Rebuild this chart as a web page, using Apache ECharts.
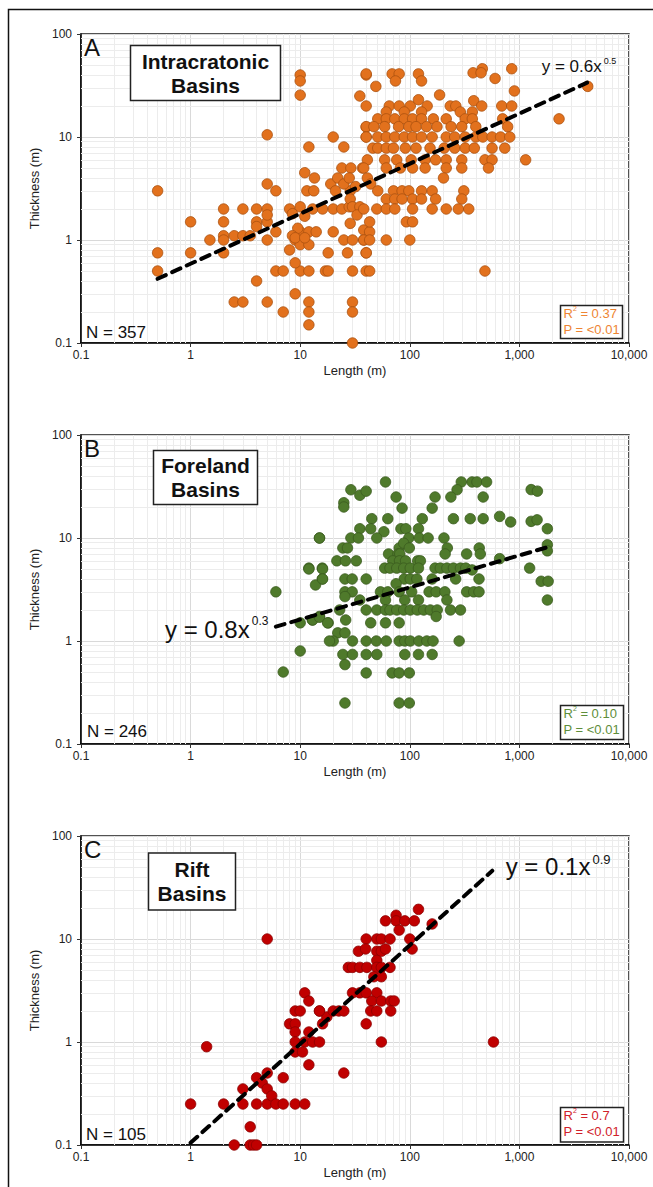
<!DOCTYPE html>
<html>
<head>
<meta charset="utf-8">
<script src="https://cdn.jsdelivr.net/npm/echarts@6/dist/echarts.min.js"></script>
<style>
html,body{margin:0;padding:0;background:#fff;}
#chart{width:653px;height:1187px;}
</style>
</head>
<body>
<div id="chart"></div>
<script>
// ---------- DATA (Length m, Thickness m) ----------
const intracratonic = [
 [10,40],[10,35],[10,25.5],[40,40],[35,25],[40,20],[5,10.5],[20,10],[12,8],[25,8],[40,12.5],[40,10],
 [24,5],[29,5],[37,5],[11,4.5],[13.5,4],[19,3.5],[22,4],[21,3],
 [0.5,3],[5,3.5],[6,3],[11.5,3],[13.3,3],
 [2,2],[3,2],[4,2],[5,2],[8,2],[10,2.1],[13,2],[16,2],[20,2],[24,2],[28,2.1],
 [1,1.5],[2,1.5],[4,1.5],[5,1.5],[5,1.75],[4,1.35],
 [1.5,1],[2,1.1],[2,1],[2.5,1.1],[3,1.1],[3.5,1.1],[5,1],[6,1.2],
 [10,1.2],[12,1.2],[14,1.2],[20,1.2],[9,1],[10,0.9],[12,0.9],[8,0.8],[25,1],[30,1],[38,1],
 [0.5,0.75],[1,0.75],[2,0.75],[18,0.75],[27,0.75],[40,0.75],
 [0.5,0.5],[6,0.5],[7,0.5],[10,0.5],[12,0.5],[17,0.5],[18,0.5],[30,0.5],[40,0.5],
 [9,0.6],[4,0.4],[2.5,0.25],[3,0.25],[5,0.25],[9,0.3],[12,0.25],[12,0.2],[12,0.15],[7,0.2],[30,0.25],[30,0.2],[30,0.1],
 [8.5,1.8],[11,1.7],[9.5,1.3],[8.5,1.1],[9,1.05],[11,1.05],
 [28.6,3],[28.6,2.5],[30,2.1],[35,2.1],[33,1.75],[28.6,1.45],[38,1.25],[43,1.2],[38,1],[25,3.5],[32,3.3],[28,4],
 [40,41],[69,41],[80,41],[74,35],[120,41],[128,35],[378,42],[459,46],[447,42],[851,46],[600,37],[900,28],[49,31],[187,25.6],
 [65,20],[80,20],[101,20],[120,23],[144,20],[234,20],[263,20],[383,22.5],[453,20],[690,20],[851,20],
 [2300,15],[4200,31],
 [61,17.5],[89,17.5],[128,17.5],[289,17.5],[372,17.5],
 [51,15],[61,15],[73,15],[89,15],[106,15],[128,15],[164,15],[215,15],[320,15],[372,15],[703,15],
 [40,12.6],[47,12.6],[59,12.6],[79,12.6],[98,12.6],[114,12.6],[142,12.6],[177,12.6],[238,12.6],[298,12.6],[400,12.6],[781,12.6],
 [40,10],[51,10],[61,10],[73,10],[89,10],[106,10],[128,10],[160,10],[215,10],[257,10],[320,10],[400,10],[464,10],[563,10],[673,10],[817,10],
 [46,7.8],[51,7.8],[61,7.8],[71,7.8],[91,7.8],[114,7.8],[153,7.8],[206,7.8],[257,7.8],[320,7.8],[388,7.8],[563,7.8],[735,7.8],
 [41,6],[59,6],[76,6],[103,6],[138,6],[172,6],[215,6],[298,6],[485,6],[563,6],[1140,6],
 [38,5],[61,5],[82,5],[106,5],[138,5],[215,5],[298,5],[522,5],
 [41,4],[203,4],[44,3.5],
 [51,3],[71,3],[85,3],[98,3],[128,3],[160,3],[311,3],
 [61,2.5],[73,2.5],[85,2.5],[106,2.5],[128,2.5],[172,2.5],[298,2.5],
 [38,2],[50,2],[61,2],[73,2],[106,2],[160,2],[215,2],[277,2],[345,2],
 [43,1.5],[93,1.5],[106,1.5],
 [43,1],[61,1],[100,1],[40,0.75],[43,0.5],[485,0.5]
];
const foreland = [
 [60,35],[295,35],[370,35],[410,35],[502,35],[29,29.4],[35,26],[40,28.5],[270,29.4],[1280,29.5],[1460,28.5],
 [25,22],[25,20],[75,25],[170,25],[237,25],[467,25],[85,19.5],[160,19.5],
 [45,15.4],[63,15.4],[130,15.4],[250,15.4],[356,15.4],[467,15.4],[660,16.2],[832,14.3],[1280,14.5],[1450,15],
 [35,12.3],[44,12.3],[58,11.5],[83,12.3],[92,12.3],[120,12.3],[1800,12.3],
 [15,10],[29,10],[34,10],[50,10],[98,10],[122,10],[147,10],[205,10],
 [24.5,8],[27,8],[80,8],[88,8.9],[99,8],[220,8],[430,8],[1800,8.6],[1800,7.5],
 [64,7],[78,7],[81,7],[210,7],[330,7],[440,7],[660,6.3],
 [21.6,6],[25.9,6],[32.5,6],[70,6],[80.6,6],[91.5,6],[118,6],[125,6],
 [12,5.1],[15.9,5.1],[59,5.1],[66,5.1],[76,5.1],[88,5.1],[101,5.1],[120,5.1],[170,5.1],[190,5.1],[218,5.1],[250,5.1],[290,5.1],[324,5.1],[1240,5.1],[370,4.9],
 [15.9,4],[25.6,4],[29.8,4],[40,4],[89,4],[101,4],[116,4],[160,4],[262,4],[428,4],[75,3.6],
 [13.8,3.5],[1580,3.8],[1830,3.8],
 [25.6,3],[29.8,3],[54,3],[63,3],[80,3],[104,3],[150,3],[174,3],[209,3],[330,3],[383,3],[428,3],
 [25.6,2.7],
 [35,2.5],[60,2.5],[90,2.5],[120,2.5],[218,2.5],[1800,2.5],
 [22.9,2],[40,2],[50,2],[60,2],[66,2],[76,2],[88,2],[101,2],[117,2],[134,2],[154,2],[178,2],[235,2],[290,2],
 [12.9,1.6],[15,1.73],[18,1.5],[26,1.6],[44,1.5],[60,1.5],[80,1.5],[174,1.73],
 [22,1.2],[25.6,1.2],
 [20,1],[30,1],[40,1],[49.5,1],[61,1],[80,1],[90,1],[101,1],[121,1],[143,1],[163,1],[282,1],
 [24.5,0.74],[30,0.74],[40,0.74],[50,0.74],[90,0.74],[120,0.74],[160,0.74],
 [25.6,0.59],
 [40,0.49],[69,0.49],[80,0.49],[99,0.49],
 [25.6,0.25],[80,0.25],[99,0.25],
 [6,3],[7,0.5],[10,1.5],[10,0.8],[13,1.6],[15,10],[12,5],[16,5],[16,4],[15,1.7],[17.8,1.5],[18.5,1]
];
const rift = [
 [1,0.25],[1.4,0.9],[2,0.25],[2.5,0.1],[3,0.35],[3,0.25],[3.5,0.15],[3.5,0.1],[3.75,0.1],[4,0.1],
 [4,0.45],[4,0.25],[4.5,0.4],[5,0.5],[5,0.35],[5,0.25],[5.5,0.3],[6,0.25],[7,0.45],[7,0.25],[5,10],
 [8,1.5],[9,2],[10,2],[9,1.5],[9,1.25],[9,1],[9,0.8],[9,0.25],
 [11,3],[12,2.5],[11,1],[13,1],[15,1],[10.5,0.8],[12,1.25],[12,0.6],[11,0.25],[15,2],[16,1.5],[17.5,1.75],
 [120,19.4],[75,17],[75,15],[60,15],[90,15],[110,15],[80,12.2],[160,14],
 [40,10],[50,10],[55,10],[66,10],[100,10],
 [34,7.6],[39.5,8],[50,7.6],[55,7.6],[60,8],[105,8],[50,6.2],
 [27.5,5.3],[30,5.3],[35,5.3],[40.6,5.3],[50,5.3],[55,5.3],[66,5.3],
 [47,4.3],[55,4.3],
 [30,3],[35,3],[40,3],[50,3],
 [45,2.5],[55,2.5],[67,2.5],[72,2.5],
 [15,2],[20,2],[22.5,2],[25,2],[44,2],[50,2],[67,2],
 [40,1.5],[55,1],[580,1],[25,0.5]
];
// trend line end points
const trendA = [[0.5,0.42],[4150,33.7]];
const trendB = [[6,1.38],[1770,8.1]];
const trendC = [[1,0.105],[566,46]];
// axis tick values
const xTicks = [0.1,1,10,100,1000,10000];
const yTicks = [0.1,1,10,100];

// ---------- LAYOUT ----------
const FONT = "'Liberation Sans', Arial, sans-serif";
const LEFT = 81, W = 548, H = 309;
const panels = [
 {top:34, data:intracratonic, trend:trendA, fill:'#E2711D', edge:'#A9500F', txt:'#EE8533',
  letter:'A', title:'Intracratonic\nBasins', box:[130,45,150,55], n:'N = 357', nY:323.5, nX:86,
  r2:'0.37', rbox:[560.5,305.5,62,33], eq:['0.6','0.5'], eqPos:[541.7,56], eqSize:17, eqSup:9},
 {top:435, data:foreland, trend:trendB, fill:'#4F7A2B', edge:'#3A5A1E', txt:'#5E8E3A',
  letter:'B', title:'Foreland\nBasins', box:[153,450,104,54], n:'N = 246', nY:722.8, nX:87,
  r2:'0.10', rbox:[560.5,705.5,63,34], eq:['0.8','0.3'], eqPos:[165,615], eqSize:24, eqSup:12},
 {top:836, data:rift, trend:trendC, fill:'#C00000', edge:'#8A0000', txt:'#D0202A',
  letter:'C', title:'Rift\nBasins', box:[148,852.5,87,57], n:'N = 105', nY:1126, nX:86,
  r2:'0.7', rbox:[560.5,1107.5,63,34.5], eq:['0.1','0.9'], eqPos:[505.7,852.8], eqSize:24, eqSup:13}
];

const minorX = [], minorY = [];
for (let e = -1; e < 4; e++) for (let m = 2; m <= 9; m++) minorX.push(+(m*Math.pow(10,e)).toPrecision(3));
for (let e = -1; e < 2; e++) for (let m = 2; m <= 9; m++) minorY.push(+(m*Math.pow(10,e)).toPrecision(3));

const fmt = v => Number(Number(v).toPrecision(4)).toLocaleString('en-US');

const grids = [], xAxes = [], yAxes = [], series = [], graphics = [];
panels.forEach((p, i) => {
  grids.push({left:LEFT, top:p.top, width:W, height:H, show:true, borderColor:'#1a1a1a', borderWidth:1.5, backgroundColor:'#fff'});
  xAxes.push({type:'log', logBase:10, gridIndex:i, min:0.1, max:10000,
    axisLine:{show:true, onZero:false, lineStyle:{color:'#000', width:1.5}},
    axisTick:{show:true, inside:false, length:4, lineStyle:{color:'#333', width:1}},
    axisLabel:{fontSize:12, color:'#222', margin:6, fontFamily:FONT, formatter:fmt},
    splitLine:{show:true, lineStyle:{color:'#d9d9d9', width:1}},
    name:'Length (m)', nameLocation:'middle', nameGap:21,
    nameTextStyle:{fontSize:13, color:'#222', fontFamily:FONT}});
  yAxes.push({type:'log', logBase:10, gridIndex:i, min:0.1, max:100,
    axisLine:{show:true, onZero:false, lineStyle:{color:'#000', width:1.5}},
    axisTick:{show:true, inside:false, length:4, lineStyle:{color:'#333', width:1}},
    axisLabel:{fontSize:12, color:'#222', margin:9, fontFamily:FONT, formatter:fmt},
    splitLine:{show:true, lineStyle:{color:'#d9d9d9', width:1}},
    name:'Thickness (m)', nameLocation:'middle', nameGap:27,
    nameTextStyle:{fontSize:13, color:'#222', fontFamily:FONT}});
  // minor grid lines
  series.push({type:'line', xAxisIndex:i, yAxisIndex:i, data:[], z:1, silent:true,
    markLine:{silent:true, symbol:['none','none'], label:{show:false}, animation:false, z:1,
      lineStyle:{color:'#ececec', type:'solid', width:1},
      emphasis:{disabled:true},
      data:[...minorX.map(v => ({xAxis:v})), ...minorY.map(v => ({yAxis:v}))]}});
  series.push({type:'scatter', xAxisIndex:i, yAxisIndex:i, data:p.data, z:10,
    symbol:'circle', symbolSize:10.5,
    itemStyle:{color:p.fill, borderColor:p.edge, borderWidth:0.8, opacity:1}});
  series.push({type:'line', xAxisIndex:i, yAxisIndex:i, data:p.trend, z:11,
    showSymbol:false, silent:true,
    lineStyle:{color:'#000', width:4, type:[9,7], cap:'round'}});

  // panel letter
  graphics.push({type:'text', left:84, top:p.top+1.5, z:20,
    style:{text:p.letter, font:'24px '+FONT, fill:'#111'}});
  // title box
  const b = p.box;
  graphics.push({type:'rect', shape:{x:b[0]+0.5, y:b[1]+0.5, width:b[2], height:b[3]}, z:20,
    style:{fill:'#fff', stroke:'#222', lineWidth:1.5}});
  graphics.push({type:'text', x:b[0]+b[2]/2+0.5, y:b[1]+b[3]/2+0.5, z:21,
    style:{text:p.title, font:'bold 21px '+FONT, fill:'#111', align:'center', verticalAlign:'middle', lineHeight:24}});
  // N
  graphics.push({type:'text', x:p.nX, y:p.nY, z:20,
    style:{text:p.n, font:'17px '+FONT, fill:'#111', verticalAlign:'top', lineHeight:17}});
  // R2 box
  const r = p.rbox;
  graphics.push({type:'rect', shape:{x:r[0], y:r[1], width:r[2], height:r[3]}, z:20,
    style:{fill:'#fff', stroke:'#222', lineWidth:1.5}});
  graphics.push({type:'text', x:r[0]+3, y:r[1]-0.5, z:21,
    style:{text:'{a|R}{s|2}{a| = '+p.r2+'}\n{a|P = <0.01}', verticalAlign:'top',
      rich:{a:{fontSize:13, fontFamily:FONT, fill:p.txt, color:p.txt, lineHeight:16.5},
            s:{fontSize:7, fontFamily:FONT, fill:p.txt, color:p.txt, lineHeight:8, verticalAlign:'top'}}}});
  // equation
  graphics.push({type:'text', x:p.eqPos[0], y:p.eqPos[1], z:20,
    style:{text:'{a|y = '+p.eq[0]+'x}{s|'+p.eq[1]+'}', verticalAlign:'top',
      rich:{a:{fontSize:p.eqSize, fontFamily:FONT, color:'#111', fill:'#111', lineHeight:p.eqSize+4},
            s:{fontSize:p.eqSup, fontFamily:FONT, color:'#111', fill:'#111', lineHeight:p.eqSup+1, verticalAlign:'top', padding:[0,0,0,2]}}}});
});
// outer frame
graphics.push({type:'rect', shape:{x:8.5, y:9.5, width:700, height:1200}, z:0,
  style:{fill:'none', stroke:'#111', lineWidth:1.5}});

const chart = echarts.init(document.getElementById('chart'), null, {renderer:'svg', width:653, height:1187});
chart.setOption({
  animation:false,
  backgroundColor:'#fff',
  textStyle:{fontFamily:FONT},
  grid:grids, xAxis:xAxes, yAxis:yAxes, series:series, graphic:graphics
});
</script>
</body>
</html>
